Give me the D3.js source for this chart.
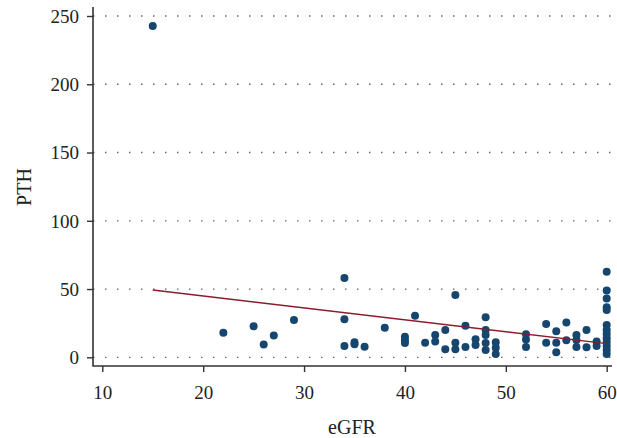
<!DOCTYPE html>
<html>
<head>
<meta charset="utf-8">
<script src="https://cdn.jsdelivr.net/npm/d3@7"></script>
<style>
  body { margin: 0; background: #fff; }
  svg { display: block; font-family: "Liberation Serif", "DejaVu Serif", serif; }
</style>
</head>
<body>
<svg id="chart" width="617" height="438"></svg>
<script>
// eGFR / PTH pairs
const egfr = [
  15, 22, 25, 26, 27, 29,
  34, 34, 34, 35, 35, 36, 38,
  40, 40, 40, 41, 42, 43, 43, 44, 44,
  45, 45, 45, 46, 46, 47, 47,
  48, 48, 48, 48, 48, 49, 49, 49,
  52, 52, 52, 54, 54, 55, 55, 55, 56, 56,
  57, 57, 57, 58, 58, 59, 59,
  60, 60, 60, 60, 60, 60, 60, 60, 60, 60, 60, 60, 60
];
const pth = [
  242.6, 18, 22.7, 9.3, 15.9, 27.4,
  58, 27.9, 8.3, 11, 9.5, 7.8, 21.7,
  15, 12.5, 10.5, 30.5, 10.7, 16.4, 11.5, 20, 5.9,
  45.7, 10.7, 5.9, 23.2, 7.5, 13.2, 9,
  29.3, 20, 16.4, 10.5, 5.4, 11, 7, 2.5,
  16.8, 13, 7.5, 24.4, 10.7, 19, 10.7, 3.7, 25.4, 12.5,
  16.4, 12.7, 7.6, 20, 7.3, 11.5, 8.3,
  62.6, 49, 43, 36.7, 34.7, 23.7, 20, 17, 14, 11.2, 8.3, 5.4, 2.4
];
const xTicks = [10, 20, 30, 40, 50, 60];
const yTicks = [0, 50, 100, 150, 200, 250];

const svg = d3.select('#chart');
const plotL = 93, plotR = 612, plotT = 7, plotB = 366;

const x = d3.scaleLinear().domain([10, 60]).range([102.3, 606.7]);
const y = d3.scaleLinear().domain([0, 250]).range([357.3, 16]);

// dotted grid lines
svg.append('g')
  .selectAll('line')
  .data(yTicks)
  .join('line')
  .attr('x1', plotL).attr('x2', plotR)
  .attr('y1', d => y(d)).attr('y2', d => y(d))
  .attr('stroke', '#666')
  .attr('stroke-width', 1.3)
  .attr('stroke-dasharray', '1.5,10.5');

// axes
const xAxis = svg.append('g')
  .attr('transform', `translate(0,${plotB})`)
  .call(d3.axisBottom(x).tickValues(xTicks).tickSize(6).tickFormat(d3.format('d')));
const yAxis = svg.append('g')
  .attr('transform', `translate(${plotL},0)`)
  .call(d3.axisLeft(y).tickValues(yTicks).tickSize(6).tickFormat(d3.format('d')));

[xAxis, yAxis].forEach(a => {
  a.select('.domain').remove();
  a.selectAll('.tick line').attr('stroke', '#333').attr('stroke-width', 1.4);
  a.selectAll('.tick text').attr('fill', '#222').style('font-size', '19px')
    .style('font-family', '"Liberation Serif", serif');
});
xAxis.selectAll('.tick text').attr('y', 20).attr('dy', '0.71em');
yAxis.selectAll('.tick text').attr('x', -14).attr('dy', '0.33em');

svg.append('path')
  .attr('d', `M${plotL},${plotT}V${plotB}H${plotR}`)
  .attr('fill', 'none')
  .attr('stroke', '#333')
  .attr('stroke-width', 1.6);

// linear fit
const mx = d3.mean(egfr), my = d3.mean(pth);
const sxy = d3.sum(egfr, (v, i) => (v - mx) * (pth[i] - my));
const sxx = d3.sum(egfr, v => (v - mx) ** 2);
const slope = sxy / sxx, icpt = my - slope * mx;
const ext = d3.extent(egfr);

// points
svg.append('g')
  .selectAll('circle')
  .data(egfr.map((v, i) => [v, pth[i]]))
  .join('circle')
  .attr('cx', d => x(d[0]))
  .attr('cy', d => y(d[1]))
  .attr('r', 4)
  .attr('fill', '#16466e');

svg.append('line')
  .attr('x1', x(ext[0])).attr('y1', y(icpt + slope * ext[0]))
  .attr('x2', x(ext[1])).attr('y2', y(icpt + slope * ext[1]))
  .attr('stroke', '#8c1c2c')
  .attr('stroke-width', 1.4);

// axis titles
svg.append('text')
  .attr('x', 352).attr('y', 434)
  .attr('text-anchor', 'middle')
  .attr('fill', '#222')
  .style('font-size', '20px')
  .text('eGFR');
svg.append('text')
  .attr('transform', 'translate(31,187) rotate(-90)')
  .attr('text-anchor', 'middle')
  .attr('fill', '#222')
  .style('font-size', '20px')
  .text('PTH');
</script>
</body>
</html>
